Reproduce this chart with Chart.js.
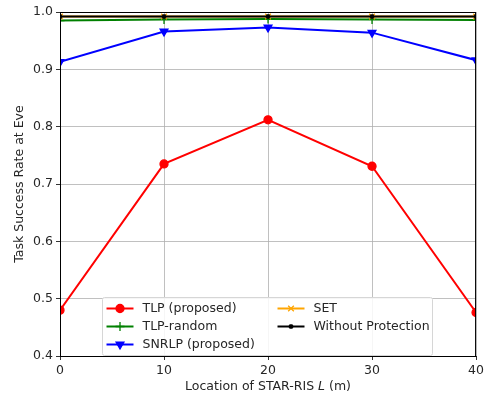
<!DOCTYPE html>
<html>
<head>
<meta charset="utf-8">
<script src="https://cdn.jsdelivr.net/npm/chart.js@4"></script>
<style>
  html, body { margin: 0; padding: 0; background: #fff; }
  #wrap { width: 487px; height: 396px; position: relative; }
</style>
</head>
<body>
<div id="wrap"><canvas id="chart"></canvas></div>
<script>
// --- data ---
const locations = [0, 10, 20, 30, 40];
const tlpProposed = [0.480, 0.735, 0.812, 0.731, 0.476];
const tlpRandom = [0.985, 0.987, 0.988, 0.987, 0.986];
const snrlpProposed = [0.913, 0.966, 0.973, 0.964, 0.916];
const setValues = [0.992, 0.992, 0.992, 0.992, 0.992];
const withoutProtection = [0.992, 0.992, 0.992, 0.992, 0.992];
const yTicks = [0.4, 0.5, 0.6, 0.7, 0.8, 0.9, 1.0];
const xTicks = [0, 10, 20, 30, 40];

const FONT = "'DejaVu Sans', sans-serif";
const FSIZE = 12.5;
Chart.defaults.font.family = FONT;
Chart.defaults.font.size = FSIZE;
Chart.defaults.color = '#262626';

function pts(ys) {
    return locations.map((x, i) => ({ x: x, y: ys[i] }));
}

const series = [
    { label: 'TLP (proposed)', data: tlpProposed, color: '#ff0000', style: 'circle', radius: 4, rot: 0, order: 5 },
    { label: 'TLP-random', data: tlpRandom, color: '#008000', style: 'cross', radius: 4.5, rot: 0, order: 4 },
    { label: 'SNRLP (proposed)', data: snrlpProposed, color: '#0000ff', style: 'triangle', radius: 4.5, rot: 180, order: 3 },
    { label: 'SET', data: setValues, color: '#ffa500', style: 'crossRot', radius: 4, rot: 0, order: 2 },
    { label: 'Without Protection', data: withoutProtection, color: '#000000', style: 'star', radius: 2.5, rot: 0, order: 1 }
];

// box around plot, legend, axis titles (x title has an italic L)
const extras = {
    id: 'extras',
    afterDraw(chart) {
        const ctx = chart.ctx;
        const a = chart.chartArea;
        ctx.save();
        ctx.strokeStyle = '#000';
        ctx.lineWidth = 1;
        ctx.strokeRect(a.left + 0.5, a.top + 0.5, a.right - a.left - 1, a.bottom - a.top);

        // legend
        const bw = 330, bh = 58;
        const bx = Math.round((a.left + a.right) / 2 - bw / 2) - 0.5;
        const by = Math.round(a.bottom - bh - 1) + 0.5;
        ctx.fillStyle = 'rgba(255,255,255,0.85)';
        ctx.strokeStyle = '#d6d6d6';
        ctx.lineWidth = 1;
        ctx.beginPath();
        ctx.roundRect(bx, by, bw, bh, 2);
        ctx.fill();
        ctx.stroke();
        ctx.font = FSIZE + 'px ' + FONT;
        ctx.textBaseline = 'middle';
        const cols = [[0, 1, 2], [3, 4]];
        const colX = [bx + 4, bx + 175];
        cols.forEach((col, c) => {
            col.forEach((idx, r) => {
                const s = series[idx];
                const y = by + 11 + r * 18;
                const x0 = colX[c];
                ctx.strokeStyle = s.color;
                ctx.fillStyle = s.color;
                ctx.lineWidth = 2;
                ctx.beginPath();
                ctx.moveTo(x0, y);
                ctx.lineTo(x0 + 27, y);
                ctx.stroke();
                ctx.lineWidth = 1.3;
                Chart.helpers.drawPoint(ctx, {
                    pointStyle: s.style, radius: s.radius, rotation: s.rot,
                    borderWidth: 1.3
                }, x0 + 13.5, y);
                ctx.fillStyle = '#262626';
                ctx.fillText(s.label, x0 + 36, y + 0.5);
            });
        });

        // x title with italic L
        const parts = [['Location of STAR-RIS ', 'normal'], ['L', 'italic'], [' (m)', 'normal']];
        let total = 0;
        parts.forEach(p => { ctx.font = p[1] + ' ' + FSIZE + 'px ' + FONT; total += ctx.measureText(p[0]).width; });
        let x = (a.left + a.right) / 2 - total / 2;
        ctx.fillStyle = '#262626';
        ctx.textAlign = 'left';
        parts.forEach(p => {
            ctx.font = p[1] + ' ' + FSIZE + 'px ' + FONT;
            ctx.fillText(p[0], x, 386.5);
            x += ctx.measureText(p[0]).width;
        });

        // y title
        ctx.font = FSIZE + 'px ' + FONT;
        ctx.translate(20, (a.top + a.bottom) / 2);
        ctx.rotate(-Math.PI / 2);
        ctx.textAlign = 'center';
        ctx.fillText('Task Success Rate at Eve', 0, 0);
        ctx.restore();
    }
};

new Chart(document.getElementById('chart'), {
    type: 'line',
    data: {
        datasets: series.map(s => ({
            label: s.label,
            data: pts(s.data),
            borderColor: s.color,
            backgroundColor: s.color,
            pointBorderColor: s.color,
            pointBackgroundColor: s.color,
            pointStyle: s.style,
            pointRadius: s.radius,
            pointRotation: s.rot,
            pointBorderWidth: 1.3,
            borderWidth: 2,
            tension: 0,
            fill: false,
            order: s.order
        }))
    },
    options: {
        responsive: true,
        maintainAspectRatio: false,
        animation: false,
        layout: { padding: { left: 0, right: 10, top: 12, bottom: 0 } },
        plugins: {
            legend: { display: false },
            tooltip: { enabled: false }
        },
        scales: {
            x: {
                type: 'linear',
                min: 0,
                max: 40,
                afterBuildTicks: (s) => { s.ticks = xTicks.map(v => ({ value: v })); },
                afterFit: (s) => { s.height = 40; },
                grid: { color: '#b0b0b0', tickColor: '#000', tickLength: 4, lineWidth: 0.8 },
                border: { color: '#000', width: 1 },
                ticks: { color: '#262626', padding: 3, maxRotation: 0 }
            },
            y: {
                min: 0.4,
                max: 1.0,
                afterBuildTicks: (s) => { s.ticks = yTicks.map(v => ({ value: v })); },
                afterFit: (s) => { s.width = 60; },
                grid: { color: '#b0b0b0', tickColor: '#000', tickLength: 4, lineWidth: 0.8 },
                border: { color: '#000', width: 1 },
                ticks: { color: '#262626', padding: 3, callback: (v) => v.toFixed(1) }
            }
        }
    },
    plugins: [extras]
});
</script>
</body>
</html>
